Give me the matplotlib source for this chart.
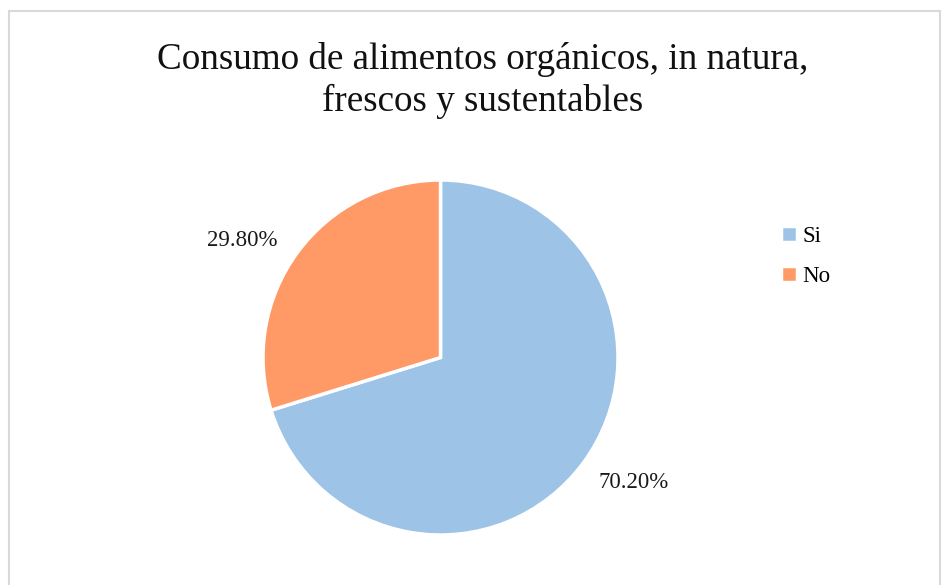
import matplotlib
matplotlib.use("Agg")
import matplotlib.pyplot as plt
from matplotlib.patches import Rectangle

categories = ["Si", "No"]
values = [70.2, 29.8]
colors = ["#9DC3E6", "#FF9966"]
title = "Consumo de alimentos orgánicos, in natura,\nfrescos y sustentables"

plt.rcParams['font.family'] = ['Liberation Serif', 'DejaVu Serif']

W, H = 942, 585
fig = plt.figure(figsize=(W / 100, H / 100), dpi=100)

# border
fig.patches.append(Rectangle((9 / W, -0.01), (940 - 9) / W, (H - 11) / H + 0.01,
                             transform=fig.transFigure, fill=False,
                             edgecolor="#D9D9D9", linewidth=1.5))

cx, cy, r = 440.5, 357.5, 177.5
ax = fig.add_axes([(cx - r) / W, (H - cy - r) / H, 2 * r / W, 2 * r / H])
wedges, texts, autotexts = ax.pie(values, colors=colors, startangle=90, counterclock=False,
                                  autopct=lambda p: f"{p:.2f}%", pctdistance=1.3,
                                  wedgeprops=dict(edgecolor="white", linewidth=2.5),
                                  textprops=dict(fontsize=16.5, color="#1a1a1a"))
ax.set_xlim(-1, 1)
ax.set_ylim(-1, 1)
ax.set_aspect("equal")
# nudge labels to Excel-like positions
autotexts[0].set_position((193.5 / r, -124.5 / r))
autotexts[1].set_position((-198.5 / r, 116.5 / r))

fig.text(483 / W, 1 - 80.5 / H, title, ha="center", va="center", fontsize=26.7,
         linespacing=1.27, color="#111111")

leg = fig.legend(wedges, categories, loc="upper left", bbox_to_anchor=(760 / W, 1 - 205 / H),
                 frameon=False, fontsize=16.5, handlelength=0.7, handleheight=0.7,
                 handletextpad=0.25, labelspacing=0.85)

fig.savefig("out.png", dpi=100)
